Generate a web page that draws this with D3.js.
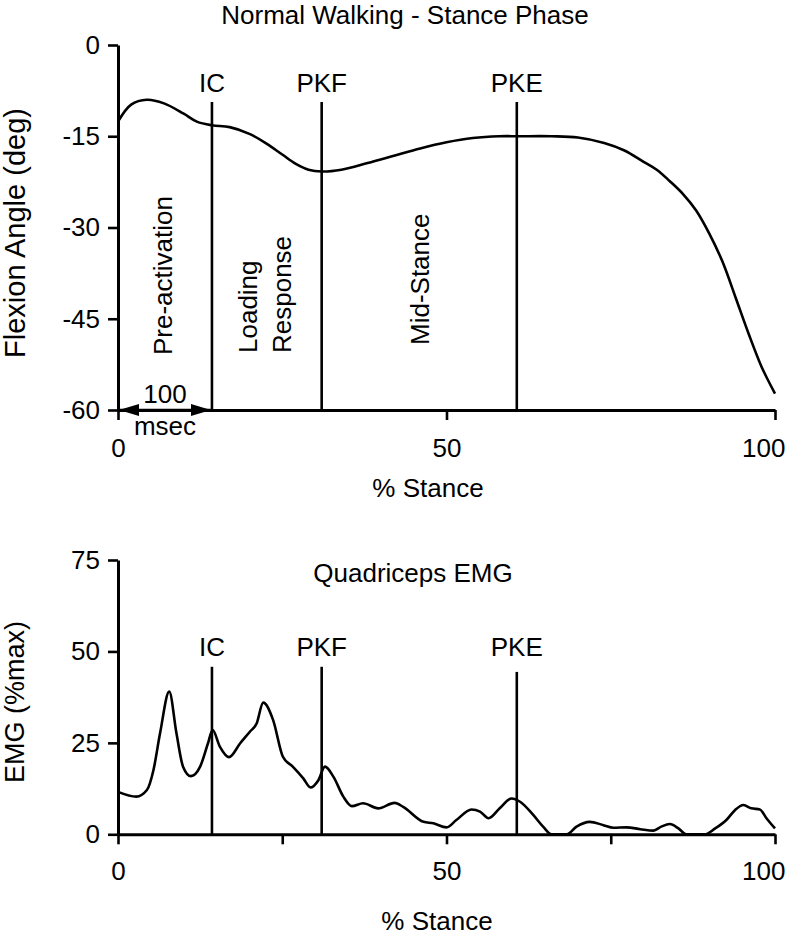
<!DOCTYPE html>
<html><head><meta charset="utf-8">
<script src="https://cdn.jsdelivr.net/npm/d3@7/dist/d3.min.js"></script>
<style>
body{margin:0;background:#fff;}
text{font-family:"Liberation Sans",Arial,sans-serif;fill:#000;}
</style></head>
<body><svg id="c" width="789" height="942"></svg>
<script>
// ---- data ----
const angleX = [0,2,4.4,7,10,12,14.3,17,20,22.6,25,27,29,31,34,38,42,46,50,54,58,61,66,70,74,77,80,82,84,86,88,90,92,94,96,98,100];
const angleY = [-12.6,-9.8,-9.0,-9.6,-11.3,-12.6,-13.2,-13.5,-14.6,-16.2,-18,-19.5,-20.5,-20.8,-20.5,-19.4,-18.2,-17.0,-16.0,-15.3,-15.0,-15.0,-15.0,-15.2,-16.1,-17.3,-19.2,-20.5,-22.4,-24.5,-27.2,-31,-35.6,-41.5,-47.5,-53,-57.3];
const emgX = [0,2.8,4.4,5.4,6.4,7.8,8.9,9.9,11.1,12.5,13.7,14.4,15.5,16.9,18.6,20.1,21.1,22.1,23.6,25.1,26.6,28.2,29.3,30.5,31.5,32.8,34.3,35.6,37.3,39.6,42.1,43.4,46.5,48,50,51.5,53.8,55.1,56.4,58.1,59.9,61.2,63.2,64.7,66,68.3,69.8,71.8,73.9,75.4,77.4,79.5,81.5,82.7,84,85.3,86.5,89.3,90.9,92.6,93.9,95.2,96.4,97.7,98.7,100];
const emgY = [11.6,10.3,12.1,17.6,27.6,39.0,27.6,18.5,15.9,18.5,24.9,28.5,24.0,21.1,24.9,28.1,30.3,36.0,31.3,21.2,18.5,15.3,12.8,14.8,18.5,15.7,10.3,7.7,8.5,7.1,8.6,7.5,3.4,3.0,1.9,3.9,6.8,6.2,4.4,7.1,9.8,8.9,5.3,2.1,0,0,2.1,3.4,2.5,1.8,1.9,1.4,1.0,2.1,2.8,1.6,0,0,1.6,3.9,6.6,8.0,7.1,6.8,4.4,1.6];
const events = ["IC","PKF","PKE"];
const eventX = [14.3,31.0,60.7];
const emgEventTop = [45.8,45.8,44.4];
const angleTicks = [0,-15,-30,-45,-60];
const emgTicks = [0,25,50,75];
const angleXTicks = [0,50,100];
const emgXTicks = [0,25,50,75,100];
const emgXLabels = [0,50,100];
const phases = [["Pre-activation"],["Loading","Response"],["Mid-Stance"]];

const svg = d3.select("#c");
const FS = 26;
const LW = 2.6;

const x = d3.scaleLinear().domain([0,100]).range([118,775]);
const yA = d3.scaleLinear().domain([-60,0]).range([410,45]);
const yE = d3.scaleLinear().domain([0,75]).range([834.3,560]);

function styleAxis(g){
  g.select(".domain").attr("stroke","#000").attr("stroke-width",3);
  g.selectAll(".tick line").attr("stroke","#000").attr("stroke-width",2.6);
  g.selectAll(".tick text").attr("font-size",FS).attr("font-family","Liberation Sans, Arial, sans-serif").attr("fill","#000");
}
function shiftLast(g){
  g.selectAll(".tick text").filter(d=>d===100).attr("text-anchor","end").attr("x",10);
}

// ---- top chart ----
const gTop = svg.append("g");
gTop.append("text").attr("x",405).attr("y",24).attr("text-anchor","middle").attr("font-size",FS).text("Normal Walking - Stance Phase");

eventX.forEach((ev,i)=>{
  gTop.append("line").attr("x1",x(ev)).attr("x2",x(ev)).attr("y1",102).attr("y2",yA(-60)).attr("stroke","#000").attr("stroke-width",LW);
  gTop.append("text").attr("x",x(ev)).attr("y",92).attr("text-anchor","middle").attr("font-size",FS).text(events[i]);
});

const gyA = gTop.append("g").attr("transform",`translate(${x(0)},0)`)
  .call(d3.axisLeft(yA).tickValues(angleTicks).tickFormat(d=>String(d)).tickSize(10).tickSizeOuter(0).tickPadding(8));
styleAxis(gyA);
const gxA = gTop.append("g").attr("transform",`translate(0,${yA(-60)})`)
  .call(d3.axisBottom(x).tickValues(angleXTicks).tickSize(10).tickSizeOuter(0).tickPadding(19));
styleAxis(gxA); shiftLast(gxA);

gTop.append("path").datum(angleX.map((d,i)=>[d,angleY[i]]))
  .attr("fill","none").attr("stroke","#000").attr("stroke-width",LW)
  .attr("d",d3.line().x(d=>x(d[0])).y(d=>yA(d[1])).curve(d3.curveCatmullRom.alpha(0.5)));

// phase labels (rotated)
gTop.append("text").attr("transform","translate(172,355) rotate(-90)").attr("font-size",FS).text(phases[0][0]);
gTop.append("text").attr("transform","translate(257,353) rotate(-90)").attr("font-size",FS).text(phases[1][0]);
gTop.append("text").attr("transform","translate(291,353) rotate(-90)").attr("font-size",FS).text(phases[1][1]);
gTop.append("text").attr("transform","translate(429,345) rotate(-90)").attr("font-size",FS).text(phases[2][0]);

// 100 msec double arrow
const defs = svg.append("defs");
defs.append("marker").attr("id","ah").attr("viewBox","0 0 20 12").attr("refX",20).attr("refY",6)
  .attr("markerWidth",20).attr("markerHeight",12).attr("markerUnits","userSpaceOnUse").attr("orient","auto-start-reverse")
  .append("path").attr("d","M0,0 L20,6 L0,12 Z").attr("fill","#000");
gTop.append("line").attr("x1",x(0)+1).attr("x2",x(eventX[0])-1).attr("y1",yA(-60)).attr("y2",yA(-60))
  .attr("stroke","#000").attr("stroke-width",2.6).attr("marker-start","url(#ah)").attr("marker-end","url(#ah)");
gTop.append("text").attr("x",(x(0)+x(eventX[0]))/2).attr("y",403).attr("text-anchor","middle").attr("font-size",FS).text("100");
gTop.append("text").attr("x",(x(0)+x(eventX[0]))/2).attr("y",435).attr("text-anchor","middle").attr("font-size",FS).text("msec");

gTop.append("text").attr("x",428).attr("y",497).attr("text-anchor","middle").attr("font-size",FS).text("% Stance");
gTop.append("text").attr("transform","translate(25,233) rotate(-90)").attr("text-anchor","middle").attr("font-size",29).text("Flexion Angle (deg)");

// ---- bottom chart ----
const gBot = svg.append("g");
gBot.append("text").attr("x",413).attr("y",582).attr("text-anchor","middle").attr("font-size",FS).text("Quadriceps EMG");
eventX.forEach((ev,i)=>{
  gBot.append("line").attr("x1",x(ev)).attr("x2",x(ev)).attr("y1",yE(emgEventTop[i])).attr("y2",yE(0)).attr("stroke","#000").attr("stroke-width",LW);
  gBot.append("text").attr("x",x(ev)).attr("y",656).attr("text-anchor","middle").attr("font-size",FS).text(events[i]);
});
const gyE = gBot.append("g").attr("transform",`translate(${x(0)},0)`)
  .call(d3.axisLeft(yE).tickValues(emgTicks).tickSize(10).tickSizeOuter(0).tickPadding(8));
styleAxis(gyE);
const gxE = gBot.append("g").attr("transform",`translate(0,${yE(0)})`)
  .call(d3.axisBottom(x).tickValues(emgXTicks).tickFormat(d=>emgXLabels.includes(d)?String(d):"").tickSize(10).tickSizeOuter(0).tickPadding(17));
styleAxis(gxE); shiftLast(gxE);

gBot.append("path").datum(emgX.map((d,i)=>[d,emgY[i]]))
  .attr("fill","none").attr("stroke","#000").attr("stroke-width",LW)
  .attr("d",d3.line().x(d=>x(d[0])).y(d=>yE(d[1])).curve(d3.curveMonotoneX));

gBot.append("text").attr("x",437).attr("y",930).attr("text-anchor","middle").attr("font-size",FS).text("% Stance");
gBot.append("text").attr("transform","translate(24,702) rotate(-90)").attr("text-anchor","middle").attr("font-size",27).text("EMG (%max)");
</script></body></html>
